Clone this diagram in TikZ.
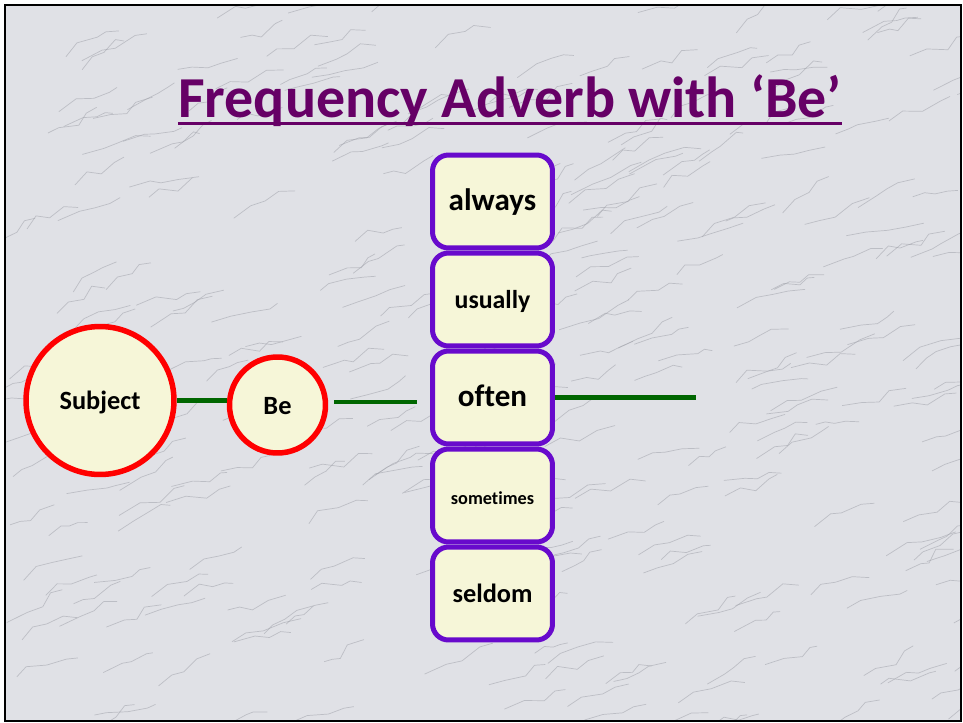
\documentclass[tikz,border=0pt]{standalone}
\usepackage{fontspec}
\setmainfont{Carlito}[Ligatures=NoCommon]
\usetikzlibrary{positioning,calc}

\definecolor{titlepurple}{RGB}{102,0,102}
\definecolor{boxpurple}{RGB}{104,10,204}
\definecolor{paleyellow}{RGB}{246,246,216}
\definecolor{linegreen}{RGB}{0,102,0}
\definecolor{marble}{RGB}{224,225,230}
\definecolor{vein}{RGB}{160,162,170}

\tikzset{
    wordcircle/.style={circle, draw=red, line width=0.11cm, fill=paleyellow, inner sep=0pt, text height=1.05em, text depth=0pt},
    advbox/.style={rectangle, rounded corners=0.32cm, draw=boxpurple, line width=0.1cm, fill=paleyellow,
        minimum width=2.4cm, minimum height=1.86cm, inner sep=0pt, text height=1.05em, text depth=0pt},
    greenline/.style={draw=linegreen, line width=0.09cm}
}

\begin{document}
\begin{tikzpicture}[x=0.02cm, y=-0.02cm]
    \useasboundingbox (0,0) rectangle (963,723);

    % Marble background
    \fill[marble] (5,5) rectangle (961,721);
    \begin{scope}
        \clip (5,5) rectangle (961,721);
        \pgfmathsetseed{4242}
        \foreach \k in {1,...,320}
            \draw[vein, line width=0.4pt, opacity=0.55]
                ({rnd*980-10},{rnd*740}) -- ++({8+rnd*14},{-2-rnd*12}) -- ++({8+rnd*14},{-rnd*10+3})
                -- ++({6+rnd*14},{-2-rnd*12}) -- ++({6+rnd*12},{-rnd*8+2});
    \end{scope}
    \draw[black, line width=0.04cm] (5,5) rectangle (961,721);

    % Title
    \node[anchor=base, inner sep=0pt, text=titlepurple, font=\fontsize{33}{36}\selectfont\bfseries] (title) at (510,117) {Frequency Adverb with ‘Be’};
    \draw[titlepurple, line width=0.06cm] ([yshift=-0.14cm]title.base west) -- ([yshift=-0.14cm]title.base east);

    % Subject and Be
    \node[wordcircle, minimum size=2.96cm, font=\fontsize{15}{18}\selectfont\bfseries] (subject) at (100,400.5) {Subject};
    \node[wordcircle, minimum size=1.92cm, font=\fontsize{15}{18}\selectfont\bfseries] (be) at (277.5,405) {Be};

    % Adverb stack
    \foreach \w/\s [count=\i] in {always/17.7, usually/14.7, often/17.7, sometimes/10.4, seldom/15}
        \node[advbox, font=\fontsize{\s}{\s}\selectfont\bfseries] (\w) at (492.5,{201.5+(\i-1)*98}) {\w};

    % Connectors
    \coordinate (lineend) at (696,398.5);
    \draw[greenline] (subject.east) -- (subject.east -| be.west);
    \draw[greenline, shorten <=0.12cm, shorten >=0.26cm] ([yshift=0.06cm]be.east) -- ([yshift=0.06cm]be.east -| often.west);
    \draw[greenline] (often.east) -- (often.east -| lineend);

\end{tikzpicture}
\end{document}
